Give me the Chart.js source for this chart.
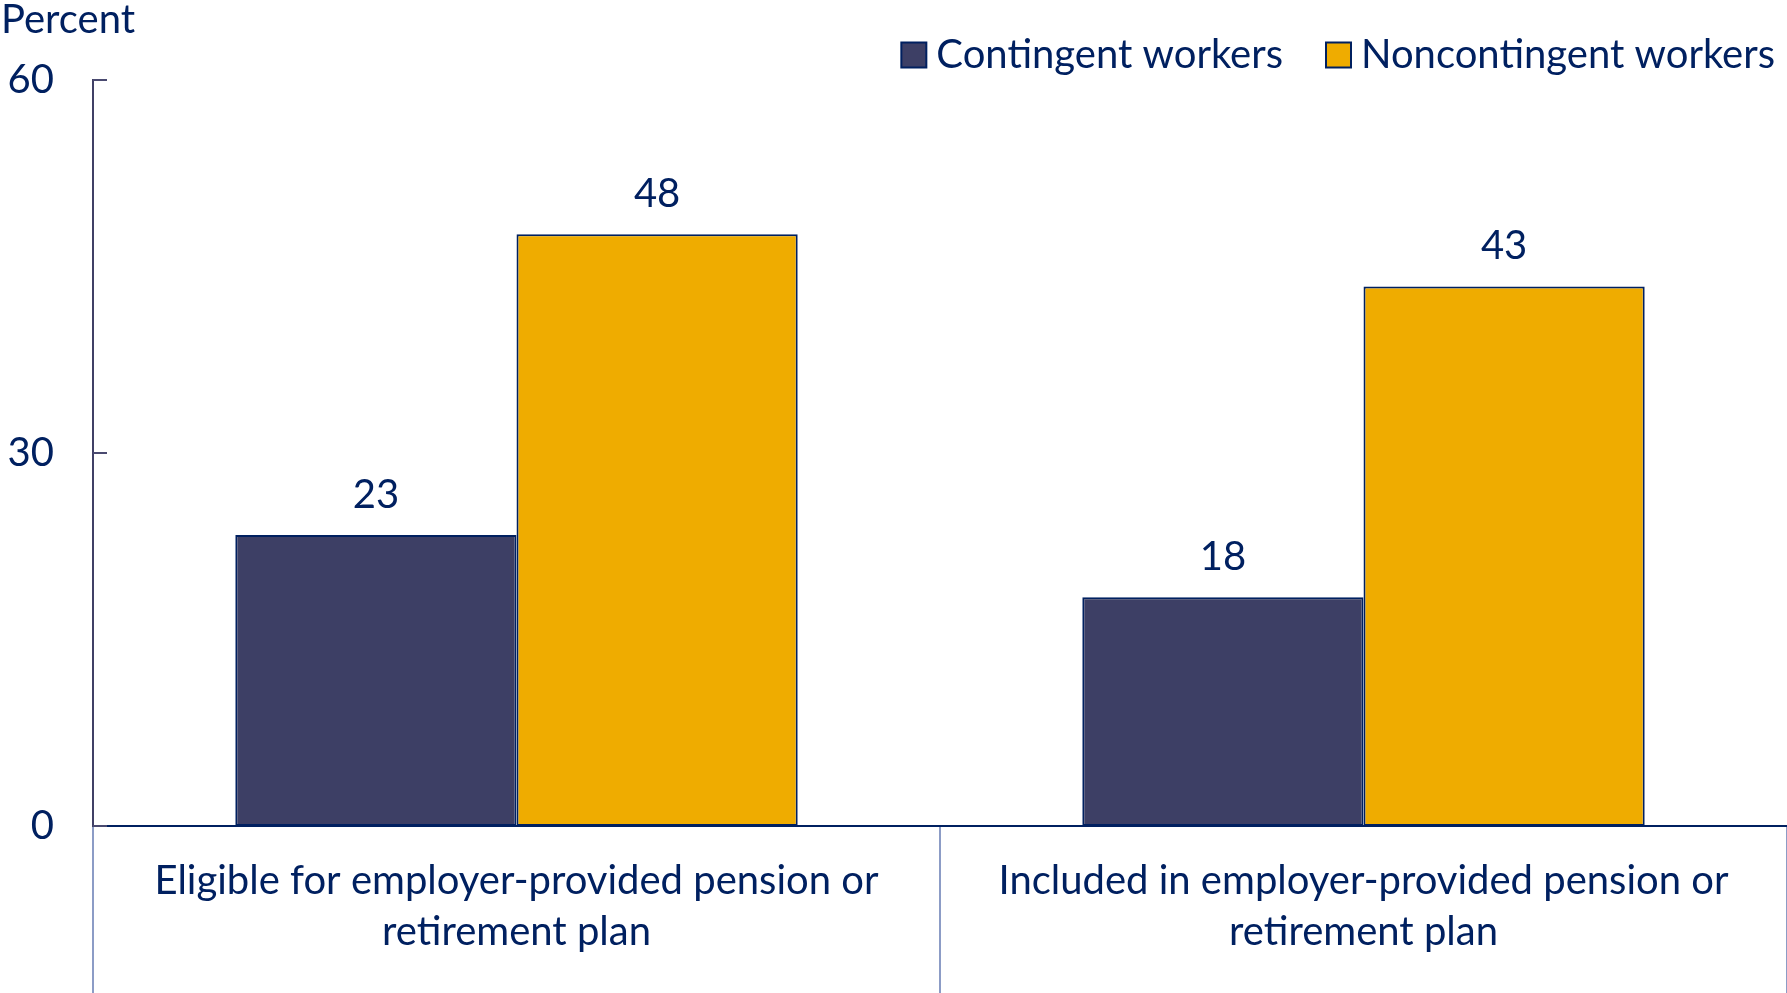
<!DOCTYPE html>
<html>
<head>
<meta charset="utf-8">
<script src="https://cdn.jsdelivr.net/npm/chart.js@4.4.0/dist/chart.umd.min.js"></script>
<style>
  html, body { margin: 0; padding: 0; background: #fff; }
  #wrap { width: 1787px; height: 993px; }
</style>
</head>
<body>
<div id="wrap"><canvas id="pension-chart" width="1787" height="993"></canvas></div>
<script>
const categories = [
    ['Eligible for employer-provided pension or', 'retirement plan'],
    ['Included in employer-provided pension or', 'retirement plan']
];
// bar heights; labels show them rounded
const contingent = [23.4, 18.4];
const noncontingent = [47.6, 43.4];
const yTicks = [0, 30, 60];

const NAVY = '#002060';
const FONT = 'Lato, "Noto Sans", sans-serif';
const FSIZE = 40;

// values above the bars
const barValues = {
    id: 'barValues',
    afterDatasetsDraw(chart) {
        const ctx = chart.ctx;
        ctx.save();
        ctx.font = FSIZE + 'px ' + FONT;
        ctx.fillStyle = NAVY;
        ctx.textAlign = 'center';
        ctx.textBaseline = 'middle';
        chart.data.datasets.forEach((ds, i) => {
            chart.getDatasetMeta(i).data.forEach((bar, j) => {
                ctx.fillText(Math.round(ds.data[j]), bar.x, bar.y - 40);
            });
        });
        ctx.restore();
    }
};

// "Percent" label, legend at top right and inward y ticks
const extras = {
    id: 'extras',
    afterDraw(chart) {
        const ctx = chart.ctx;
        const y = chart.scales.y;
        ctx.save();
        ctx.font = FSIZE + 'px ' + FONT;
        ctx.fillStyle = NAVY;
        ctx.textAlign = 'left';
        ctx.textBaseline = 'middle';
        ctx.fillText('Percent', 1, 20);

        // legend, right aligned
        const box = 25, gap = 10, itemGap = 43, cy = 55;
        const items = chart.data.datasets;
        let total = 0;
        items.forEach((ds, i) => {
            total += box + gap + ctx.measureText(ds.label).width;
            if (i > 0) total += itemGap;
        });
        let x = 1775 - total;
        items.forEach(ds => {
            ctx.fillStyle = ds.backgroundColor;
            ctx.fillRect(x, cy - box / 2, box, box);
            ctx.strokeStyle = ds.borderColor;
            ctx.lineWidth = 2;
            ctx.strokeRect(x, cy - box / 2, box, box);
            x += box + gap;
            ctx.fillStyle = NAVY;
            ctx.fillText(ds.label, x, cy);
            x += ctx.measureText(ds.label).width + itemGap;
        });

        ctx.strokeStyle = '#4a4a70';
        ctx.lineWidth = 2;
        yTicks.forEach(v => {
            const py = Math.round(y.getPixelForValue(v));
            ctx.beginPath();
            ctx.moveTo(chart.chartArea.left, py);
            ctx.lineTo(chart.chartArea.left + 14, py);
            ctx.stroke();
        });
        ctx.restore();
    }
};

new Chart(document.getElementById('pension-chart'), {
    type: 'bar',
    data: {
        labels: categories,
        datasets: [{
            label: 'Contingent workers',
            data: contingent,
            backgroundColor: '#3d3f65',
            borderColor: NAVY,
            borderWidth: 2,
            borderSkipped: false,
            categoryPercentage: 0.664,
            barPercentage: 1
        }, {
            label: 'Noncontingent workers',
            data: noncontingent,
            backgroundColor: '#efac00',
            borderColor: NAVY,
            borderWidth: 2,
            borderSkipped: false,
            categoryPercentage: 0.664,
            barPercentage: 1
        }]
    },
    options: {
        responsive: false,
        animation: false,
        layout: { padding: { top: 80, right: -4, left: 0, bottom: 0 } },
        plugins: {
            legend: { display: false },
            tooltip: { enabled: false }
        },
        scales: {
            x: {
                afterFit: s => { s.height = 167; },
                grid: {
                    offset: true,
                    drawOnChartArea: false,
                    drawTicks: true,
                    tickLength: 170,
                    color: '#8c9cc6',
                    lineWidth: 2
                },
                border: { display: true, color: NAVY, width: 2 },
                ticks: {
                    color: NAVY,
                    padding: -141,
                    maxRotation: 0,
                    font: { family: FONT, size: FSIZE, lineHeight: 1.28 }
                }
            },
            y: {
                min: 0,
                max: 60,
                afterFit: s => { s.width = 93; },
                afterBuildTicks: s => { s.ticks = yTicks.map(v => ({ value: v })); },
                grid: { display: false, drawTicks: false },
                border: { display: true, color: '#404066', width: 2 },
                ticks: {
                    color: NAVY,
                    padding: 39,
                    font: { family: FONT, size: FSIZE }
                }
            }
        }
    },
    plugins: [barValues, extras]
});
</script>
</body>
</html>
